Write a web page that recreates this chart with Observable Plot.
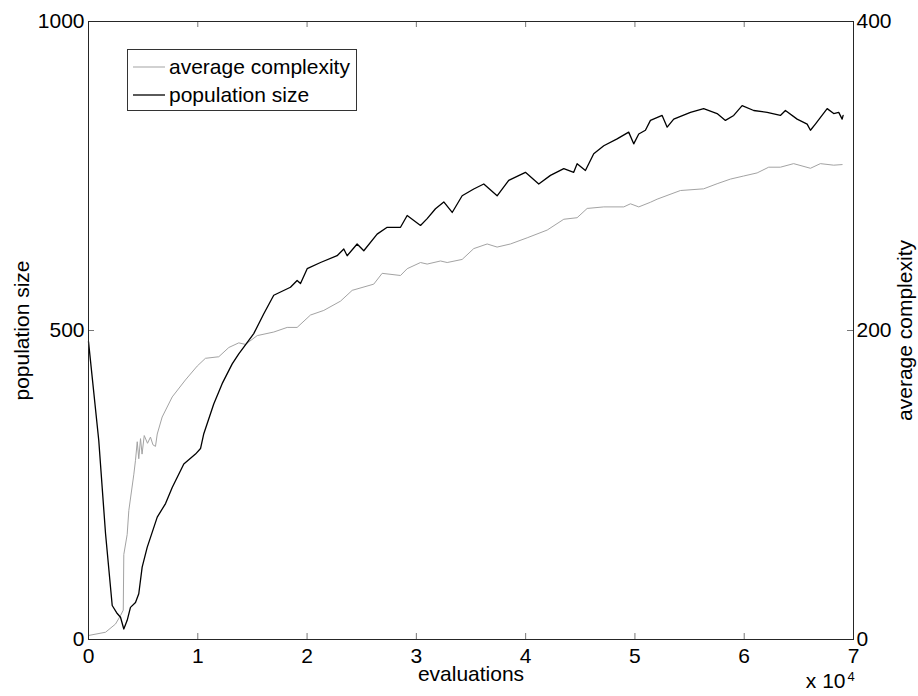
<!DOCTYPE html>
<html>
<head>
<meta charset="utf-8">
<script src="https://cdn.jsdelivr.net/npm/d3@7"></script>
<script src="https://cdn.jsdelivr.net/npm/@observablehq/plot@0.6"></script>
<style>
  html, body { margin: 0; padding: 0; background: #fff; }
  #chart { width: 918px; height: 696px; }
</style>
</head>
<body>
<div id="chart"></div>
<script>
// ---- data ----
const popX = [0, 940, 1560, 2170, 2630, 2930, 3230, 3540, 3840, 4300, 4600, 4910, 5370, 6290, 7050, 7660, 8720, 9790, 10250, 10550,
  11460, 12230, 13150, 13750, 14210, 15120, 16040, 16950, 18480, 19090, 19400, 20010, 21230, 22750, 23360, 23670, 24580, 25190, 26410, 27330,
  28550, 29160, 30380, 30990, 31750, 32510, 33280, 34190, 35250, 36170, 37390, 38450, 39980, 41200, 42270, 43490, 44400, 44710, 45470, 46230,
  47150, 48370, 49430, 49890, 50350, 50960, 51420, 52490, 52950, 53550, 55080, 56290, 57520, 58280, 59040, 59810, 60870, 62100, 63310, 63770,
  64840, 65760, 66060, 66510, 67590, 68190, 68650, 68960, 69050];
const popY = [482, 322, 171, 55, 42, 36, 17, 31, 52, 60, 74, 117, 149, 198, 220, 246, 284, 300, 309, 333,
  381, 414, 446, 462, 473, 495, 527, 557, 570, 581, 576, 600, 610, 621, 632, 621, 640, 629, 656, 667,
  667, 686, 670, 681, 697, 708, 691, 718, 729, 737, 718, 743, 756, 737, 751, 762, 756, 770, 759, 786,
  799, 810, 821, 802, 818, 824, 840, 848, 829, 842, 853, 859, 851, 840, 848, 864, 856, 853, 848, 856,
  842, 834, 824, 834, 859, 851, 853, 842, 848];

const cxX = [0, 1560, 2470, 2930, 3180, 3230, 3540, 3690, 4150, 4300, 4460, 4600, 4760, 4900, 5100, 5400, 5670, 5900, 6130, 6290,
  6740, 7660, 8870, 9950, 10700, 11920, 12840, 13750, 14360, 15440, 16950, 18180, 19090, 20310, 21530, 23060, 24130, 26100, 26870, 28550,
  29160, 30380, 30990, 32210, 32820, 34190, 35250, 36480, 37390, 38610, 40140, 41970, 43490, 44710, 45630, 47150, 48980, 49590, 50350, 51420,
  52030, 54160, 56290, 57520, 58740, 59950, 61180, 62240, 63310, 64520, 66060, 66970, 68190, 68960];
const cxY = [2.6, 4.7, 10, 15.5, 19, 55, 68, 83.5, 107, 116, 128, 117, 130, 120, 132, 127, 131, 126, 125, 133,
  144, 157, 168, 177, 182, 183, 189, 192, 191, 196.7, 199, 202, 202, 210, 213, 219, 226, 230, 237, 235.6,
  240, 244, 243, 245, 244, 246, 253, 256, 254, 256, 260, 265, 272, 273, 279, 280, 280, 282, 280, 283,
  285, 290.6, 291.7, 295, 298, 300, 302, 305.7, 305.7, 308, 305, 308, 307, 307.4];

const seriesNames = ["average complexity", "population size"];
const xTicks = [0, 10000, 20000, 30000, 40000, 50000, 60000, 70000];
const xTickLabels = ["0", "1", "2", "3", "4", "5", "6", "7"];
const leftTicks = [0, 500, 1000];
const leftTickLabels = ["0", "500", "1000"];
const rightTickLabels = ["0", "200", "400"];
const leftMax = 1000, rightMax = 400;
const xLabel = "evaluations", yLeftLabel = "population size", yRightLabel = "average complexity";
const exponentBase = "x 10", exponent = "4";

// ---- build ----
const pop = popX.map((x, i) => ({x, v: popY[i]}));
const cx = cxX.map((x, i) => ({x, v: cxY[i]}));

const W = 918, H = 696, ml = 88, mr = 65, mt = 21, mb = 57;
const plotW = W - ml - mr, plotH = H - mt - mb;
const tickPx = 6;
const tickY = leftMax * tickPx / plotH;      // tick length in y units
const tickX = 70000 * tickPx / plotW;        // tick length in x units
const font = "'Liberation Sans', Arial, Helvetica, sans-serif";
const grayC = "#a3a3a3", blackC = "#000000", axisC = "#262626", tickC = "#777";

const chart = Plot.plot({
  width: W, height: H,
  marginLeft: ml, marginRight: mr, marginTop: mt, marginBottom: mb,
  style: {fontFamily: font, fontSize: "21px", background: "#fff", color: "#000", overflow: "visible"},
  x: {domain: [0, 70000]},
  y: {domain: [0, leftMax]},
  marks: [
    Plot.line(cx, {x: "x", y: d => d.v * leftMax / rightMax, stroke: grayC, strokeWidth: 1}),
    Plot.line(pop, {x: "x", y: "v", stroke: blackC, strokeWidth: 1.3}),
    // inward ticks
    Plot.ruleX(xTicks, {x: d => d, y1: 0, y2: tickY, stroke: tickC}),
    Plot.ruleX(xTicks, {x: d => d, y1: leftMax - tickY, y2: leftMax, stroke: tickC}),
    Plot.ruleY(leftTicks, {y: d => d, x1: 0, x2: tickX, stroke: tickC}),
    Plot.ruleY(leftTicks, {y: d => d, x1: 70000 - tickX, x2: 70000, stroke: tickC}),
    Plot.frame({stroke: axisC}),
    Plot.axisX(xTicks, {anchor: "bottom", tickSize: 0, tickPadding: 9, label: null,
      tickFormat: d => xTickLabels[xTicks.indexOf(d)]}),
    Plot.axisY(leftTicks, {anchor: "left", tickSize: 0, tickPadding: 4, label: null,
      tickFormat: d => leftTickLabels[leftTicks.indexOf(d)]}),
    Plot.axisY(leftTicks, {anchor: "right", tickSize: 0, tickPadding: 3, label: null,
      tickFormat: d => rightTickLabels[leftTicks.indexOf(d)]}),
    Plot.text([xLabel], {text: d => d, frameAnchor: "bottom", dy: 41}),
    Plot.text([yLeftLabel], {text: d => d, frameAnchor: "left", textAnchor: "middle", rotate: -90, dx: -66}),
    Plot.text([yRightLabel], {text: d => d, frameAnchor: "right", textAnchor: "middle", rotate: -90, dx: 52}),
    Plot.text([exponentBase], {text: d => d, frameAnchor: "bottom-right", textAnchor: "end", dx: -8, dy: 48}),
    Plot.text([exponent], {text: d => d, frameAnchor: "bottom-right", textAnchor: "start", dx: -6, dy: 41, fontSize: 13})
  ]
});
document.getElementById("chart").appendChild(chart);

// ---- legend (inside the axes, upper-left) ----
const svg = d3.select(chart);
const lg = svg.append("g").attr("transform", "translate(127,49)");
lg.append("rect").attr("x", 0.5).attr("y", 0.5).attr("width", 229).attr("height", 61)
  .attr("fill", "#fff").attr("stroke", "#333");
const legendColors = [grayC, blackC];
const legendWidths = [1, 1.3];
seriesNames.forEach((name, i) => {
  const cy = 18 + i * 28;
  lg.append("line").attr("x1", 6).attr("x2", 38).attr("y1", cy).attr("y2", cy)
    .attr("stroke", legendColors[i]).attr("stroke-width", legendWidths[i]);
  lg.append("text").attr("x", 42).attr("y", cy).attr("dy", "0.35em")
    .attr("text-anchor", "start")
    .attr("font-family", font).attr("font-size", 21).attr("fill", "#000").text(name);
});
</script>
</body>
</html>
